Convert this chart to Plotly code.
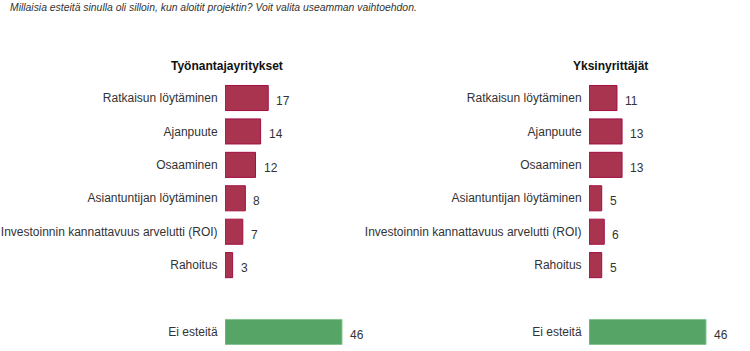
import plotly.graph_objects as go

title_text = "Millaisia esteitä sinulla oli silloin, kun aloitit projektin? Voit valita useamman vaihtoehdon."
categories = ["Ratkaisun löytäminen", "Ajanpuute", "Osaaminen", "Asiantuntijan löytäminen",
              "Investoinnin kannattavuus arvelutti (ROI)", "Rahoitus", " ", "Ei esteitä"]
left_title = "Työnantajayritykset"
right_title = "Yksinyrittäjät"
left_values = [17, 14, 12, 8, 7, 3, None, 46]
right_values = [11, 13, 13, 5, 6, 5, None, 46]

RED = "#a8344f"
RED_LINE = "#a20f42"
GREEN = "#56a466"
GREEN_LINE = "#86c592"
FONT = "Liberation Sans, Arial"

def colors():
    return [GREEN if c == "Ei esteitä" else RED for c in categories]

def lines():
    return [GREEN_LINE if c == "Ei esteitä" else RED_LINE for c in categories]

fig = go.Figure()
annotations = []
for vals, xa, ya in [(left_values, "x", "y"), (right_values, "x2", "y2")]:
    fig.add_trace(go.Bar(
        x=vals, y=categories, orientation="h", xaxis=xa, yaxis=ya,
        marker=dict(color=colors(), line=dict(color=lines(), width=1)),
        hoverinfo="skip", showlegend=False,
    ))
    for c, v in zip(categories, vals):
        if v is None:
            continue
        annotations.append(dict(
            text=str(v), x=v, y=c, xref=xa, yref=ya, xanchor="left", yanchor="middle",
            xshift=6, yshift=-3, showarrow=False,
            font=dict(family=FONT, size=12, color="#333333")))

px_per_unit = 117 / 46
xr = 50
xw = xr * px_per_unit / 750
ydom = [1 - 348.7 / 351, 1 - 81.3 / 351]

common_x = dict(range=[0, xr], showgrid=False, zeroline=False, showticklabels=False,
                showline=False, fixedrange=True)
common_y = dict(categoryorder="array", categoryarray=categories, autorange=False,
                range=[7.5, -0.5], showgrid=False, zeroline=False, showline=False,
                ticks="outside", ticklen=4, tickcolor="rgba(0,0,0,0)",
                tickfont=dict(family=FONT, size=12, color="#333333"),
                domain=ydom, fixedrange=True)

annotations += [
    dict(text="<i>" + title_text + "</i>", x=8 / 750, y=1 - 8 / 351, xref="paper", yref="paper",
         xanchor="left", yanchor="middle", showarrow=False,
         font=dict(family=FONT, size=10.4, color="#333333")),
    dict(text="<b>" + left_title + "</b>", x=227 / 750, y=1 - 66 / 351, xref="paper", yref="paper",
         xanchor="center", yanchor="middle", showarrow=False,
         font=dict(family=FONT, size=12, color="#111111")),
    dict(text="<b>" + right_title + "</b>", x=610 / 750, y=1 - 66 / 351, xref="paper", yref="paper",
         xanchor="center", yanchor="middle", showarrow=False,
         font=dict(family=FONT, size=12, color="#111111")),
]

fig.update_layout(
    width=750, height=351,
    margin=dict(l=0, r=0, t=0, b=0),
    paper_bgcolor="white", plot_bgcolor="white",
    bargap=0.25,
    xaxis=dict(domain=[225 / 750, 225 / 750 + xw], anchor="y", **common_x),
    xaxis2=dict(domain=[589 / 750, 589 / 750 + xw], anchor="y2", **common_x),
    yaxis=dict(anchor="x", **common_y),
    yaxis2=dict(anchor="x2", **common_y),
    annotations=annotations,
)

fig.write_html("out.html")
